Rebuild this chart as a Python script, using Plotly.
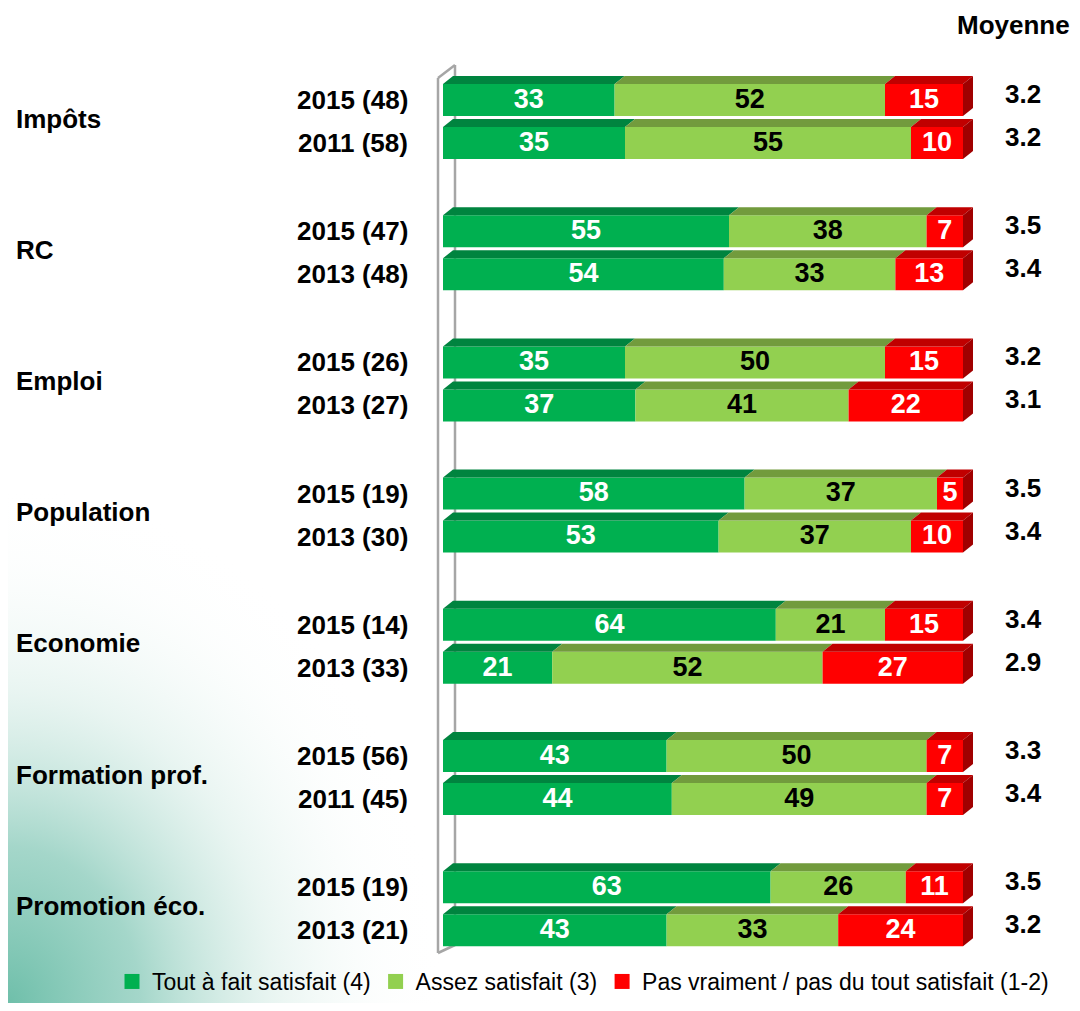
import base64
import plotly.graph_objects as go

# Satisfaction par domaine (en %)
groupes = ['Impôts', 'RC', 'Emploi', 'Population', 'Economie', 'Formation prof.', 'Promotion éco.']
annees = ['2015 (48)', '2011 (58)', '2015 (47)', '2013 (48)', '2015 (26)', '2013 (27)',
          '2015 (19)', '2013 (30)', '2015 (14)', '2013 (33)', '2015 (56)', '2011 (45)',
          '2015 (19)', '2013 (21)']
tout_a_fait = [33, 35, 55, 54, 35, 37, 58, 53, 64, 21, 43, 44, 63, 43]
assez = [52, 55, 38, 33, 50, 41, 37, 37, 21, 52, 50, 49, 26, 33]
pas_vraiment = [15, 10, 7, 13, 15, 22, 5, 10, 15, 27, 7, 7, 11, 24]
moyenne = ['3.2', '3.2', '3.5', '3.4', '3.2', '3.1', '3.5', '3.4', '3.4', '2.9', '3.3', '3.4', '3.5', '3.2']

noms = ['Tout à fait satisfait (4)', 'Assez satisfait (3)', 'Pas vraiment / pas du tout satisfait (1-2)']
couleurs = ['#00B050', '#92D050', '#FF0000']
dessus = ['#00843F', '#729B3D', '#C00000']
texte_coul = ['white', 'black', 'white']

# page has an 8px body margin all round, so the figure is drawn smaller and shifted
OFF = 8
W, H = 1080 - 2 * OFF, 1011 - 2 * OFF
X0, PX = 443 - OFF, 5.2     # pixel of 0 % and pixels per %
FONT = 'Liberation Sans, Arial, sans-serif'
BAR_H = 32
DX, DY = 10 / PX, 8         # depth of the 3D faces

# row positions (pixel units on the reversed y axis)
ypos = [100 - OFF + (i // 2) * 131.2 + (i % 2) * 43 for i in range(len(annees))]

series = [tout_a_fait, assez, pas_vraiment]
fig = go.Figure()

# soft teal glow in the lower left corner
GW, GH = 440, 520
svg = (f"<svg xmlns='http://www.w3.org/2000/svg' width='{GW}' height='{GH}'>"
       "<defs><radialGradient id='g' cx='0' cy='1' r='1'>"
       "<stop offset='0' stop-color='#6FBFAA' stop-opacity='1'/>"
       "<stop offset='0.3' stop-color='#86C9B8' stop-opacity='0.75'/>"
       "<stop offset='0.6' stop-color='#BFE2D8' stop-opacity='0.35'/>"
       "<stop offset='0.85' stop-color='#E8F5F1' stop-opacity='0.1'/>"
       "<stop offset='1' stop-color='#FFFFFF' stop-opacity='0'/>"
       f"</radialGradient></defs><rect width='{GW}' height='{GH}' fill='url(#g)'/></svg>")
fig.add_layout_image(dict(
    source='data:image/svg+xml;base64,' + base64.b64encode(svg.encode()).decode(),
    xref='paper', yref='paper', x=0, y=GH / H, sizex=GW / W, sizey=GH / H,
    xanchor='left', yanchor='top', sizing='stretch', layer='below'))

# 3D wall for the axis
wl, wr = (438 - OFF - X0) / PX, (455 - OFF - X0) / PX
for xa, ya, xb, yb in [(wr, 65, wr, 945), (wl, 78, wl, 953), (wl, 78, wr, 65), (wl, 953, wr, 945)]:
    fig.add_shape(type='line', xref='x', yref='y', x0=xa, y0=ya - OFF, x1=xb, y1=yb - OFF,
                  line=dict(color='#A6A6A6', width=2.5), layer='below')

base = [0] * len(annees)
for s, vals in enumerate(series):
    fig.add_trace(go.Bar(
        y=ypos, x=vals, base=base, orientation='h', width=BAR_H, name=noms[s], showlegend=False,
        marker=dict(color=couleurs[s], line_width=0), textposition='none', hoverinfo='skip'))
    # top faces
    px_, py_ = [], []
    for y, b, v in zip(ypos, base, vals):
        yt = y - BAR_H / 2
        px_ += [b, b + v, b + v + DX, b + DX, b, None]
        py_ += [yt, yt, yt - DY, yt - DY, yt, None]
    fig.add_trace(go.Scatter(x=px_, y=py_, mode='lines', fill='toself', fillcolor=dessus[s],
                             line_width=0, showlegend=False, hoverinfo='skip'))
    # values
    fig.add_trace(go.Scatter(
        x=[b + v / 2 for b, v in zip(base, vals)], y=[y + 1 for y in ypos], mode='text',
        text=[str(v) for v in vals], showlegend=False, hoverinfo='skip', cliponaxis=False,
        textfont=dict(family=FONT, size=27, color=texte_coul[s], weight='bold')))
    base = [b + v for b, v in zip(base, vals)]

# right faces
px_, py_ = [], []
for y, b in zip(ypos, base):
    yt, yb = y - BAR_H / 2, y + BAR_H / 2
    px_ += [b, b + DX, b + DX, b, b, None]
    py_ += [yt, yt - DY, yb - DY, yb, yt, None]
fig.add_trace(go.Scatter(x=px_, y=py_, mode='lines', fill='toself', fillcolor='#A00000',
                         line_width=0, showlegend=False, hoverinfo='skip'))

# legend entries with square markers
for s in range(3):
    fig.add_trace(go.Scatter(x=[None], y=[None], mode='markers', name=noms[s],
                             marker=dict(symbol='square', size=15, color=couleurs[s])))

bold = dict(family=FONT, size=26, color='black', weight='bold')
annots = []
for i, lab in enumerate(annees):
    annots.append(dict(x=(410 - OFF) / W, xref='paper', y=ypos[i], yref='y', text=lab, showarrow=False,
                       xanchor='right', yanchor='middle', font=bold))
    annots.append(dict(x=(1023 - OFF) / W, xref='paper', y=ypos[i] - 6, yref='y', text=moyenne[i],
                       showarrow=False, xanchor='center', yanchor='middle', font=bold))
for g, lab in enumerate(groupes):
    annots.append(dict(x=(14 - OFF) / W, xref='paper', y=(ypos[2 * g] + ypos[2 * g + 1]) / 2 - 3, yref='y',
                       text=lab, showarrow=False, xanchor='left', yanchor='middle', font=bold))
annots.append(dict(x=1.0, xref='paper', y=25 - OFF, yref='y', text='Moyenne', showarrow=False,
                   xanchor='right', yanchor='middle', font=bold))

fig.update_layout(
    width=W, height=H, margin=dict(l=0, r=0, t=0, b=0, autoexpand=False),
    paper_bgcolor='white', plot_bgcolor='rgba(0,0,0,0)',
    barmode='overlay', showlegend=True, annotations=annots,
    xaxis=dict(range=[-X0 / PX, (W - X0) / PX], visible=False, fixedrange=True),
    yaxis=dict(range=[H, 0], visible=False, fixedrange=True),
    legend=dict(orientation='h', x=(583 - OFF) / W, xanchor='center', y=0, yanchor='bottom',
                font=dict(family=FONT, size=23, color='black'), bgcolor='rgba(0,0,0,0)',
                itemsizing='trace', traceorder='normal', itemwidth=30, tracegroupgap=0),
)

fig.write_html('out.html')
